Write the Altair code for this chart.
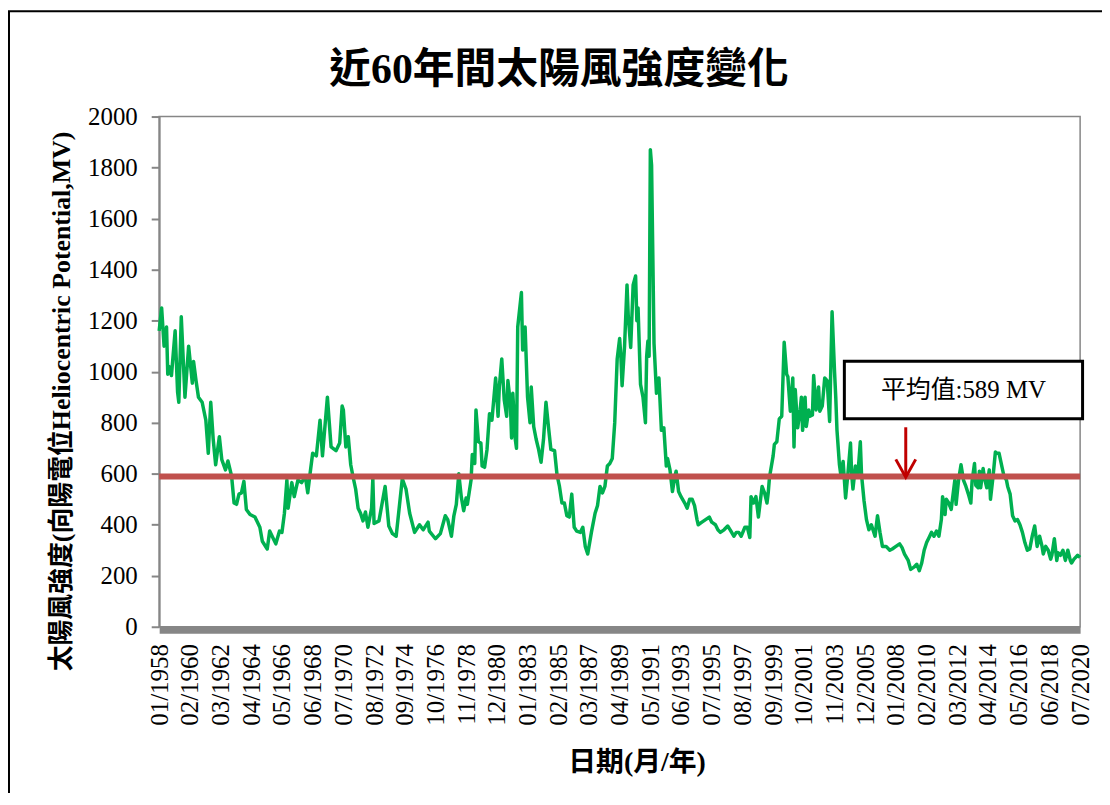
import altair as alt
import pandas as pd

# Months since 01/1958 (x position of each reading) and heliocentric potential (MV)
MONTH_INDEX = [
    0, 2, 4, 6, 7, 8, 10, 13, 15, 16, 18, 21, 24, 27, 28, 30, 32, 35, 38, 40,
    42, 44, 46, 49, 51, 54, 56, 59, 61, 63, 65, 67, 69, 71, 74, 78, 82, 84, 88, 90,
    93, 95, 98, 100, 102, 104, 105, 108, 110, 113, 116, 119, 121, 123, 125, 128, 131, 133, 137, 140,
    144, 147, 149, 150, 152, 154, 156, 158, 160, 162, 164, 166, 168, 170, 173, 174, 175, 179, 184, 187,
    190, 193, 198, 201, 204, 208, 212, 215, 219, 220, 225, 229, 233, 235, 238, 240, 242, 244, 246, 248,
    250, 251, 254, 255, 257, 258, 260, 262, 263, 265, 267, 269, 271, 274, 276, 277, 279, 281, 283, 284,
    286, 287, 288, 290, 291, 292, 295, 296, 298, 300, 302, 303, 305, 307, 309, 311, 313, 315, 317, 319,
    322, 324, 326, 328, 330, 332, 334, 336, 338, 340, 343, 345, 347, 349, 352, 355, 357, 359, 361, 363,
    365, 367, 369, 371, 373, 375, 376, 377, 379, 381, 382, 384, 386, 388, 389, 390, 392, 394, 396, 397,
    398, 399, 400, 401, 403, 405, 407, 409, 411, 413, 414, 416, 418, 420, 421, 423, 425, 428, 430, 432,
    434, 436, 438, 439, 442, 445, 448, 450, 453, 455, 457, 460, 463, 465, 468, 470, 472, 474, 477, 479,
    481, 482, 484, 486, 488, 491, 493, 495, 496, 497, 500, 501, 503, 505, 507, 509, 511, 512, 514, 516,
    517, 518, 520, 522, 523, 524, 526, 527, 529, 530, 532, 533, 535, 537, 538, 540, 542, 544, 546, 548,
    550, 551, 552, 554, 555, 557, 559, 561, 563, 564, 565, 567, 569, 571, 572, 574, 576, 578, 580, 583,
    585, 587, 589, 592, 595, 597, 600, 603, 605, 607, 610, 612, 615, 617, 619, 621, 623, 625, 627, 629,
    631, 633, 635, 637, 638, 640, 641, 643, 645, 648, 649, 651, 653, 655, 657, 659, 661, 662, 664, 665,
    667, 668, 669, 671, 672, 674, 676, 677, 679, 681, 682, 684, 686, 688, 690, 691, 693, 695, 697, 699,
    701, 703, 705, 707, 709, 711, 713, 715, 717, 719, 720, 722, 724, 726, 727, 729, 731, 732, 734, 736,
    738, 740, 742, 743, 745, 748, 750,
]
POTENTIAL_MV = [
    1160, 1250, 1100, 1175, 990, 1020, 985, 1160, 920, 880, 1215, 900, 1100, 955, 1040, 965, 900, 880, 810, 680,
    880, 735, 635, 745, 655, 615, 650, 590, 485, 480, 520, 525, 570, 460, 440, 430, 390, 335, 305, 375,
    345, 325, 375, 370, 445, 575, 465, 565, 510, 575, 565, 590, 525, 605, 680, 670, 810, 670, 900, 705,
    690, 720, 865, 850, 705, 745, 635, 585, 540, 465, 445, 415, 450, 390, 465, 580, 405, 415, 550, 395,
    365, 355, 580, 540, 445, 370, 400, 380, 410, 375, 345, 365, 435, 420, 355, 435, 480, 600, 510, 455,
    505, 480, 575, 675, 640, 850, 725, 720, 630, 625, 695, 835, 810, 975, 825, 940, 1050, 890, 825, 965,
    875, 740, 915, 735, 700, 1175, 1310, 1085, 1175, 900, 800, 940, 785, 735, 695, 645, 735, 880, 785, 695,
    690, 595, 550, 485, 485, 435, 430, 520, 390, 375, 370, 390, 315, 285, 370, 445, 475, 550, 525, 550,
    630, 640, 660, 800, 1050, 1130, 1060, 945, 1100, 1340, 1220, 1095, 1340, 1375, 1200, 1250, 950, 900, 800, 1060,
    1120, 1060, 1870, 1810, 1110, 915, 975, 770, 780, 630, 660, 615, 530, 590, 610, 530, 510, 485, 465, 500,
    500, 475, 420, 400, 410, 420, 430, 410, 400, 380, 370, 380, 395, 380, 355, 370, 370, 355, 390, 390,
    350, 510, 485, 510, 430, 550, 525, 485, 525, 585, 670, 715, 725, 815, 825, 1115, 990, 980, 845, 975,
    705, 930, 780, 850, 900, 770, 900, 785, 850, 825, 830, 985, 850, 940, 845, 865, 975, 965, 805, 1235,
    1000, 900, 770, 635, 600, 648, 505, 605, 720, 595, 540, 630, 595, 725, 595, 495, 420, 380, 400, 355,
    435, 370, 315, 315, 300, 305, 315, 325, 310, 285, 260, 225, 235, 245, 220, 250, 300, 330, 350, 370,
    355, 375, 355, 420, 510, 440, 500, 485, 460, 575, 480, 575, 635, 575, 550, 520, 485, 570, 640, 555,
    545, 610, 545, 620, 585, 545, 615, 500, 585, 685, 680, 680, 635, 590, 575, 550, 520, 435, 415, 420,
    400, 370, 330, 300, 305, 355, 395, 315, 355, 315, 285, 315, 300, 265, 280, 345, 260, 290, 280, 300,
    260, 300, 260, 250, 265, 280, 272,
]
AVERAGE_MV = [589]
X_TICKS = list(range(0, 751, 25))          # every 25 months: 01/1958 ... 07/2020
Y_TICKS = list(range(0, 2001, 200))

TITLE = "近60年間太陽風強度變化"
Y_TITLE = "太陽風強度(向陽電位Heliocentric Potential,MV)"
X_TITLE = "日期(月/年)"
NOTE = "平均值:589 MV"

# annotation placement in data units (month index, MV)
NOTE_BOX = {"x1": [558], "x2": [752], "y1": [815], "y2": [1041]}
NOTE_POS = {"x": [655], "y": [926]}
ARROW = {"x": [608], "y1": [782], "y2": [590], "tip": [586]}

FONT = "Liberation Serif, Noto Sans CJK TC, serif"
GREEN = "#00B050"
RED_LINE = "#C0504D"
ARROW_RED = "#C00000"
GRAY = "#868686"

df = pd.DataFrame({"m": MONTH_INDEX, "v": POTENTIAL_MV})

xs = alt.Scale(domain=[0, 750], nice=False, zero=False)
ys = alt.Scale(domain=[0, 2000], nice=False)

label_expr = ("(datum.value % 12 < 9 ? '0' : '') + (datum.value % 12 + 1) + '/' + "
              "(1958 + floor(datum.value / 12))")

x_axis = alt.Axis(
    values=X_TICKS, labelExpr=label_expr, labelAngle=270, labelFont=FONT, labelFontSize=25,
    labelColor="black", labelPadding=14, ticks=False, tickSize=0, domainColor=GRAY, domainWidth=7,
    offset=3, grid=False, labelOverlap=False, labelFlush=False, labelSeparation=0,
    title=X_TITLE, titleFont=FONT, titleFontSize=28, titleFontWeight="bold", titleColor="black",
    titleX=480, titleY=134, titleBaseline="middle", titleAlign="center",
)
y_axis = alt.Axis(
    values=Y_TICKS, format="d", labelFont=FONT, labelFontSize=25, labelColor="black", labelPadding=14,
    ticks=True, tickSize=8, tickColor=GRAY, tickWidth=2, domainColor=GRAY, domainWidth=2,
    grid=False, title=Y_TITLE, titleFont=FONT, titleFontSize=26, titleFontWeight="bold",
    titleColor="black", titleAngle=270, titleX=-98, titleY=286, titleBaseline="middle",
    titleAlign="center", labelOverlap=False,
)


def X(field):
    return alt.X(field, type="quantitative", scale=xs, axis=x_axis)


def Y(field):
    return alt.Y(field, type="quantitative", scale=ys, axis=y_axis)


line = alt.Chart(df).mark_line(color=GREEN, strokeWidth=3.5, strokeJoin="round").encode(
    x=X("m"), y=Y("v"))

avg = alt.Chart(pd.DataFrame({"v": AVERAGE_MV})).mark_rule(
    color=RED_LINE, strokeWidth=6).encode(y=Y("v"))

box = alt.Chart(pd.DataFrame(NOTE_BOX)).mark_rect(
    fill="white", stroke="black", strokeWidth=3).encode(
    x=X("x1"), x2="x2:Q", y=Y("y1"), y2="y2:Q")

note = alt.Chart(pd.DataFrame(NOTE_POS)).mark_text(
    text=NOTE, font=FONT, fontSize=25, color="black", align="center", baseline="middle").encode(
    x=X("x"), y=Y("y"))

shaft = alt.Chart(pd.DataFrame(ARROW)).mark_rule(color=ARROW_RED, strokeWidth=3).encode(
    x=X("x"), y=Y("y1"), y2="y2:Q")

head = alt.Chart(pd.DataFrame(ARROW)).mark_point(
    shape="M -1 -1.8 L 0 0 L 1 -1.8", filled=False, stroke=ARROW_RED, strokeWidth=3,
    size=400, opacity=1).encode(x=X("x"), y=Y("tip"))

# chart title and outer frame (placed in pixels relative to the plot area)
title = alt.Chart(pd.DataFrame({"k": [0]})).mark_text(
    text=TITLE, font=FONT, fontSize=42, fontWeight="bold", color="black",
    align="center", baseline="middle").encode(x=alt.value(402), y=alt.value(-47))

frame = alt.Chart(pd.DataFrame({"k": [0]})).mark_rect(
    fill=None, stroke="black", strokeWidth=2).encode(
    x=alt.value(-151), x2=alt.value(980), y=alt.value(-106), y2=alt.value(720))

chart = alt.layer(line, avg, box, note, shaft, head, title, frame).properties(
    width=926, height=513,
    autosize=alt.AutoSizeParams(type="none"),
    padding={"left": 152, "top": 107, "right": 22, "bottom": 165},
    background="white",
).configure_view(stroke=GRAY, strokeWidth=1.5).configure_axisX(labelOverlap=False)

chart.save("out.html", embed_options={"renderer": "svg", "actions": False})
